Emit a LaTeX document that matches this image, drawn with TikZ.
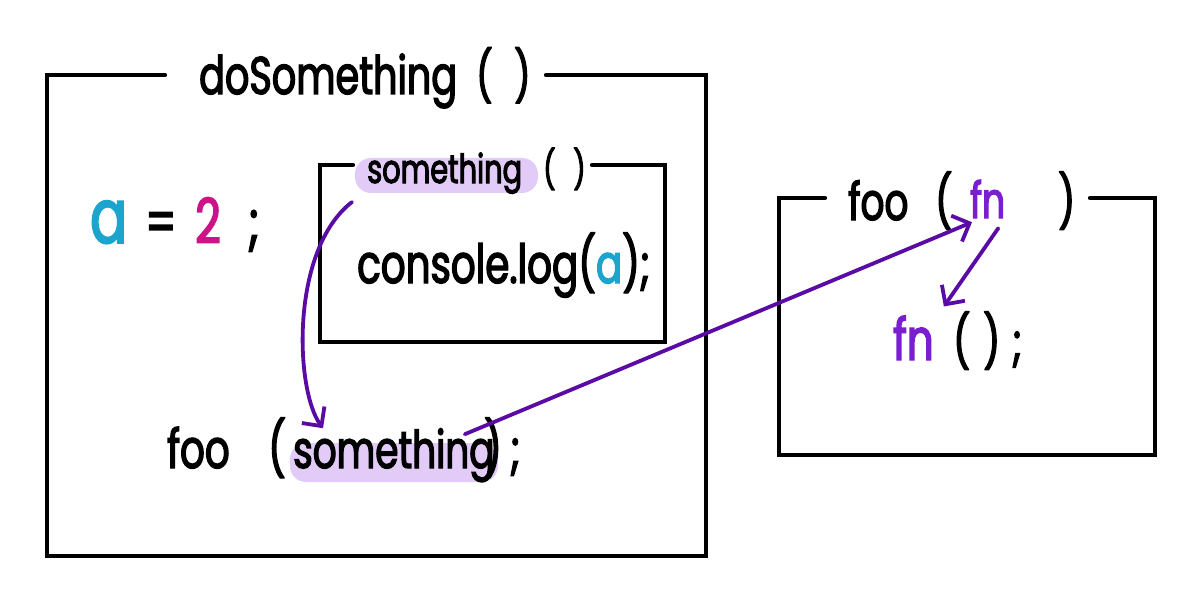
\documentclass[tikz,border=0pt]{standalone}
\usepackage{fontspec}
\setmainfont{Poppins}[FakeStretch=0.72,FakeBold=2.5]
\usetikzlibrary{arrows.meta}
\definecolor{hl}{HTML}{E2CCF7}
\definecolor{arr}{HTML}{5A0BA6}
\definecolor{ablue}{HTML}{1BA5CE}
\definecolor{pinkc}{HTML}{CC1488}
\definecolor{fnc}{HTML}{7A1FCF}
\begin{document}
\begin{tikzpicture}[x=1pt,y=-1pt,
  box/.style={line width=4.2pt, line cap=round, line join=miter},
  t/.style={inner sep=0pt, anchor=base west, font=\fontsize{#1}{#1}\selectfont},
  t/.default=52,
  hlfill/.style={fill=hl, rounded corners=16pt},
  conn/.style={arr, line width=3.8pt, line cap=round, -{Straight Barb[length=14pt, width=28pt, line width=3.8pt]}}]
\useasboundingbox (0,0) rectangle (1201,604);
% highlights
\fill[hlfill] (355,158) rectangle (538,193);
\fill[hlfill] (290,443) rectangle (498,482);
% outer box
\draw[box] (165,75) -- (47,75) -- (47,556) -- (706,556) -- (706,75) -- (546,75);
\node[t=53] (outername) at (199,94) {doSomething};
\node[t=50] (outeropen) at (476,94) {(};
\node[t=50] (outerclose) at (514,94) {)};
% a = 2 ;
\node[t=76, text=ablue] (avar) at (90,243) {a};
\node[t=60] (aeq) at (145,243) {=};
\node[t=62, text=pinkc] (atwo) at (195,243) {2};
\node[t=60] (asemi) at (248,243) {;};
% inner box
\draw[box] (353,165) -- (320,165) -- (320,342) -- (665,342) -- (665,165) -- (592,165);
\node[t=40] (innersome) at (367,183) {something};
\node[t=38] (inneropen) at (543,183) {(};
\node[t=38] (innerclose) at (573,183) {)};
\node[t=54] (consolelog) at (357,283) {console.log(\textcolor{ablue}{a});};
% foo(something);
\node[t=54] (foocall) at (167,468) {foo};
\node[t=54] (fooopen) at (268,468) {(};
\node[t=52] (arg) at (293,468) {something};
\node[t=54] (argclose) at (484,468) {)};
\node[t=54] (argsemi) at (510,468) {;};
% right box
\draw[box] (825,198) -- (779,198) -- (779,455) -- (1155,455) -- (1155,198) -- (1090,198);
\node[t=52] (foodef) at (848,220) {foo};
\node[t=52] (foodefopen) at (935,220) {(};
\node[t=50, text=fnc] (fnparam) at (970,218) {fn};
\node[t=52] (foodefclose) at (1058,220) {)};
\node[t=58, text=fnc] (fncallname) at (893,360) {fn};
\node[t=52] (fncallopen) at (953,360) {(};
\node[t=52] (fncallclose) at (983,360) {)};
\node[t=52] (fncallsemi) at (1012,360) {;};
% arrows
\draw[conn] ([xshift=-15pt,yshift=-8pt]innersome.south west) .. controls (290,250) and (295,390) .. ([xshift=30pt]arg.north west);
\draw[conn] ([xshift=-30pt,yshift=-6pt]arg.north east) -- ([xshift=2pt,yshift=-4pt]fnparam.south west);
\draw[conn] ([xshift=-7pt,yshift=-10pt]fnparam.south east) -- ([xshift=10pt,yshift=9pt]fncallname.north east);
\end{tikzpicture}
\end{document}
